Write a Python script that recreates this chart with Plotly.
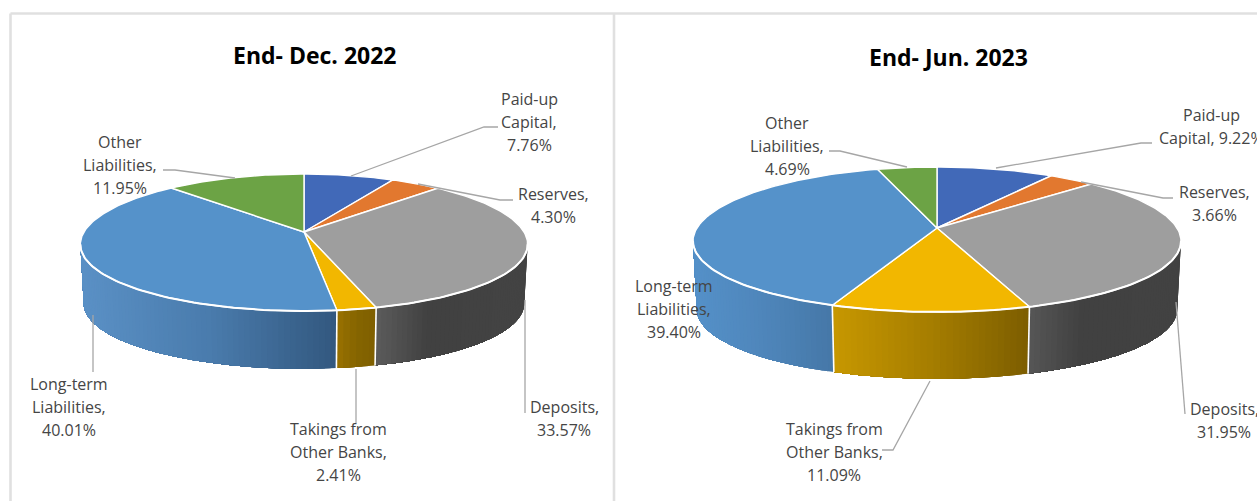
import numpy as np
import plotly.graph_objects as go

W, H = 1257, 501

# ---------- data ----------
categories = ["Paid-up Capital", "Reserves", "Deposits", "Takings from Other Banks", "Long-term Liabilities", "Other Liabilities"]
dec_2022 = [7.76, 4.30, 33.57, 2.41, 40.01, 11.95]
jun_2023 = [9.22, 3.66, 31.95, 11.09, 39.40, 4.69]
titles = ["End- Dec. 2022", "End- Jun. 2023"]

top_colors = ["#4169b8", "#e2782f", "#9e9e9e", "#f2b700", "#5592ca", "#6ca345"]

FONT = "Open Sans"
TXT = "#454545"
GREY = "#a6a6a6"
TITLE_SIZE = 23
LABEL_SIZE = 16
KX = 0.18

# ---------- layout config (pixels of the page) ----------
left_cfg = dict(
    cx=304, cy=232, a=220, top=58, bot=79, depth=59, title=(315, 55),
    wall={2: ("#5c5c5c", "#414141", "#444444"), 3: ("#9a7200", "#866500", "#806000"), 4: ("#5b91c6", "#4a7cad", "#33587f")},
    labels=[
        (529, 99, ["Paid-up", "Capital,", "7.76%"]),
        (553, 194, ["Reserves,", "4.30%"]),
        (564, 407, ["Deposits,", "33.57%"]),
        (338, 429, ["Takings from", "Other Banks,", "2.41%"]),
        (69, 384, ["Long-term", "Liabilities,", "40.01%"]),
        (120, 142, ["Other", "Liabilities,", "11.95%"]),
    ],
    leaders=[
        [(351, 176), (484, 127), (498, 127)],
        [(418, 184), (500, 200), (513, 200)],
        [(525, 300), (525, 413)],
        [(356, 369), (356, 423)],
        [(93, 315), (93, 372)],
        [(235, 178), (175, 170), (163, 170)],
    ],
)
right_cfg = dict(
    cx=937, cy=228, a=240, top=61, bot=84, depth=68, title=(948, 57),
    wall={2: ("#575757", "#414141", "#434343"), 3: ("#c89800", "#a67e00", "#7d5e00"), 4: ("#5591c9", "#4f86bb", "#4678a8")},
    labels=[
        (1211, 115, ["Paid-up", "Capital, 9.22%"]),
        (1214, 192, ["Reserves,", "3.66%"]),
        (1224, 409, ["Deposits,", "31.95%"]),
        (834, 429, ["Takings from", "Other Banks,", "11.09%"]),
        (674, 286, ["Long-term", "Liabilities,", "39.40%"]),
        (787, 123, ["Other", "Liabilities,", "4.69%"]),
    ],
    leaders=[
        [(996, 168), (1141, 143), (1152, 143)],
        [(1081, 182), (1163, 198), (1173, 198)],
        [(1176, 302), (1185, 414)],
        [(930, 381), (893, 450), (882, 450)],
        [],
        [(907, 167), (840, 151), (829, 151)],
    ],
)

fig = go.Figure()


def poly(xs, ys, color, line=None, line_color=None):
    if line is None:
        fig.add_trace(go.Scatter(x=xs, y=ys, mode="none", fill="toself", fillcolor=color,
                                 hoverinfo="skip", showlegend=False))
    else:
        fig.add_trace(go.Scatter(x=xs, y=ys, mode="lines", fill="toself", fillcolor=color,
                                 line=dict(color=line_color or color, width=line),
                                 hoverinfo="skip", showlegend=False))


def stroke(xs, ys, color, width):
    fig.add_trace(go.Scatter(x=xs, y=ys, mode="lines", line=dict(color=color, width=width),
                             hoverinfo="skip", showlegend=False))


def hex2rgb(h):
    return np.array([int(h[i:i + 2], 16) for i in (1, 3, 5)], float)


def mix(stops, t):
    p = np.array([0, .35, 1.0]) if stops[1] == "#414141" else np.array([0, .5, 1.0])
    c = np.array([hex2rgb(s) for s in stops])
    return "rgb(%d,%d,%d)" % tuple(np.interp(t, p, c[:, i]) for i in range(3))


def draw_pie(values, cfg, title):
    cx, cy, a = cfg["cx"], cfg["cy"], cfg["a"]
    up, dn, depth = cfg["top"], cfg["bot"], cfg["depth"]
    k = (dn - up) / (dn + up)
    b = up * (1 + k)

    def rim(th, scale=1.0, dy=0.0):
        X, Y = np.sin(th), np.cos(th)
        return cx + scale * a * X / (1 + KX * Y), cy + dy - scale * b * Y / (1 + k * Y)

    edges = np.deg2rad(np.concatenate([[0], np.cumsum(values)]) / np.sum(values) * 360)
    vis_lo = np.pi - np.arccos(KX)
    vis_hi = np.pi + np.arccos(KX)

    # side walls: each band is painted over the previous ones so no seams show
    for i in range(len(values)):
        lo, hi = max(edges[i], vis_lo), min(edges[i + 1], vis_hi)
        if hi <= lo:
            continue
        stops = cfg["wall"][i]
        ths = np.linspace(lo, hi, max(6, int(np.degrees(hi - lo) * 0.8)) + 1)
        x_hi, x_lo = rim(lo)[0], rim(hi)[0]
        for j in range(len(ths) - 1):
            arc = ths[j:]
            xa, ya = rim(arc)
            xb, yb = rim(arc[::-1], .985, depth)
            t = ((xa[0] + xa[1]) / 2 - x_lo) / max(x_hi - x_lo, 1)
            poly(np.r_[xa, xb, xa[0]], np.r_[ya, yb, ya[0]], mix(stops, t))
    # wall separators
    for e in edges:
        if vis_lo < e < vis_hi:
            x0, y0 = rim(e)
            x1, y1 = rim(e, .985, depth)
            stroke([x0, x1], [y0, y1], "white", 1.6)

    # top faces
    for i in range(len(values)):
        ths = np.linspace(edges[i], edges[i + 1], max(8, int(np.degrees(edges[i + 1] - edges[i]))) + 1)
        x, y = rim(ths)
        poly(np.r_[cx, x, cx], np.r_[cy, y, cy], top_colors[i], line=1.4, line_color="white")
    # white front rim
    x, y = rim(np.linspace(vis_lo, vis_hi, 120))
    stroke(x, y, "white", 2)

    # leaders
    for pts in cfg["leaders"]:
        if pts:
            stroke([p[0] for p in pts], [p[1] for p in pts], GREY, 1.3)

    # title
    fig.add_annotation(x=cfg["title"][0], y=cfg["title"][1], text="<b>%s</b>" % title, showarrow=False,
                       font=dict(family=FONT, size=TITLE_SIZE, color="black"), xanchor="center", yanchor="middle")
    # labels
    for lx, ly, lines in cfg["labels"]:
        for j, s in enumerate(lines):
            fig.add_annotation(x=lx, y=ly + j * 23, text=s, showarrow=False,
                               font=dict(family=FONT, size=LABEL_SIZE, color=TXT), xanchor="center", yanchor="middle")


# panel frame
for xs, ys in [([10.5, 10.5], [13.5, H]), ([10.5, W], [13.5, 13.5]), ([614, 614], [13.5, H])]:
    stroke(xs, ys, "#e0e0e0", 2.6)

draw_pie(dec_2022, left_cfg, titles[0])
draw_pie(jun_2023, right_cfg, titles[1])

fig.update_layout(
    width=W, height=H, margin=dict(l=0, r=0, t=0, b=0),
    paper_bgcolor="white", plot_bgcolor="white", showlegend=False,
    xaxis=dict(range=[0, W], visible=False, fixedrange=True),
    yaxis=dict(range=[H, 0], visible=False, fixedrange=True),
)
fig.write_html("out.html", config=dict(displayModeBar=False),
               post_script="document.body.style.margin='0';document.body.style.overflow='hidden';")
